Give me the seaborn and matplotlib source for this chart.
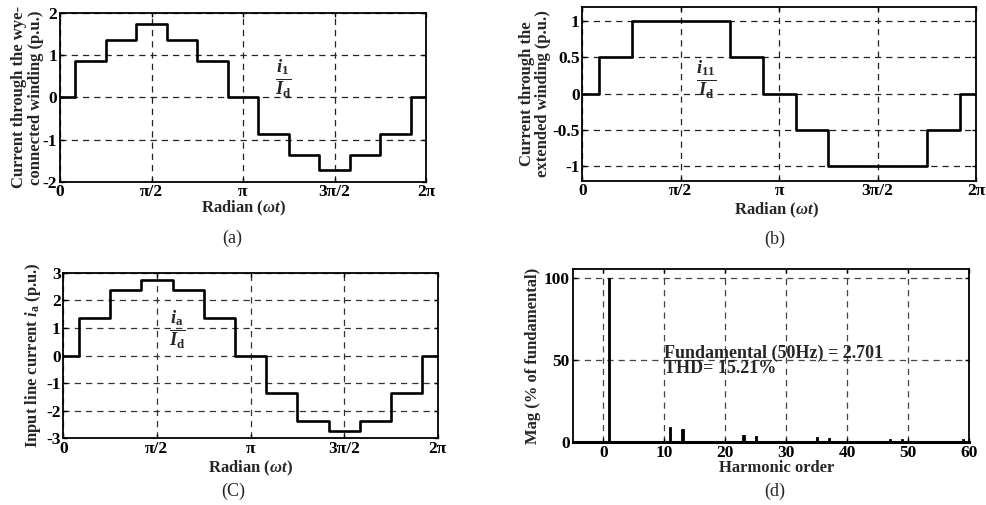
import numpy as np
import matplotlib
matplotlib.use("Agg")
import matplotlib.pyplot as plt
import seaborn as sns

# ---------------- data ----------------
step_edges_deg = [0, 15, 45, 75, 105, 135, 165, 195, 225, 255, 285, 315, 345, 360]
i1_vals = [0, 0.866, 1.366, 1.732, 1.366, 0.866, 0, -0.866, -1.366, -1.732, -1.366, -0.866, 0, 0]
i11_vals = [0, 0.5, 1, 1, 1, 0.5, 0, -0.5, -1, -1, -1, -0.5, 0, 0]
ia_vals = [0, 1.366, 2.366, 2.732, 2.366, 1.366, 0, -1.366, -2.366, -2.732, -2.366, -1.366, 0, 0]

harm_orders = [1, 11, 13, 23, 25, 35, 37, 47, 49, 59]
harm_mags = [100, 9.3, 7.8, 4.5, 4.1, 3.0, 2.8, 2.2, 2.1, 1.8]

rad_tick_labels = ["0", "π/2", "π", "3π/2", "2π"]
yt_a = [-2, -1, 0, 1, 2]
yt_b = [-1, -0.5, 0, 0.5, 1]
yt_b_labels = ["-1", "-0.5", "0", "0.5", "1"]
yt_c = [-3, -2, -1, 0, 1, 2, 3]
yt_d = [0, 50, 100]
xt_d = [0, 10, 20, 30, 40, 50, 60]

# ---------------- style ----------------
sns.set_style("ticks")
plt.rcParams["font.family"] = ["Liberation Serif", "DejaVu Serif"]
plt.rcParams["axes.unicode_minus"] = False
plt.rcParams["mathtext.fontset"] = "custom"
plt.rcParams["mathtext.rm"] = "Liberation Serif:bold"
plt.rcParams["mathtext.it"] = "Liberation Serif:bold:italic"
plt.rcParams["mathtext.bf"] = "Liberation Serif:bold"

W, H = 986, 505
fig = plt.figure(figsize=(W / 100, H / 100), dpi=100)


def px_axes(l, t, r, b):
    return fig.add_axes([l / W, 1 - b / H, (r - l) / W, (b - t) / H])


ax_a = px_axes(60, 13, 426, 181.7)
ax_b = px_axes(582.3, 6.7, 976, 180.7)
ax_c = px_axes(63.3, 272.7, 437.7, 438.3)
ax_d = px_axes(572.7, 269.3, 969.3, 442.3)

grid_kw = dict(linestyle=(0, (5, 4)), linewidth=0.9)
TICK_FS = 12.5
label_font = dict(fontsize=12, fontweight="bold")

x_rad = np.deg2rad(step_edges_deg)
rad_ticks = [0, np.pi / 2, np.pi, 3 * np.pi / 2, 2 * np.pi]


def style_axes(ax, grid_color):
    for s in ax.spines.values():
        s.set_visible(True)
        s.set_linewidth(1.3)
        s.set_color("black")
    ax.tick_params(direction="in", length=3, width=1, top=True, right=True,
                   pad=2, colors="black")
    ax.grid(True, color=grid_color, **grid_kw)
    ax.set_axisbelow(True)
    for lab in ax.get_xticklabels() + ax.get_yticklabels():
        lab.set_fontsize(TICK_FS)
        lab.set_fontweight("bold")


def step_panel(ax, vals, ylim, yticks, yticklabels, grid_color):
    sns.lineplot(x=x_rad, y=vals, drawstyle="steps-post", color="black",
                 linewidth=1.9, ax=ax, sort=False)
    ax.set_xlim(0, 2 * np.pi)
    ax.set_ylim(*ylim)
    ax.set_xticks(rad_ticks)
    ax.set_xticklabels(rad_tick_labels)
    ax.set_yticks(yticks)
    ax.set_yticklabels(yticklabels)
    style_axes(ax, grid_color)
    ax.set_xlabel(r"Radian ($\omega t$)", **label_font)


# (a)
step_panel(ax_a, i1_vals, (-2, 2), yt_a, [str(v) for v in yt_a], "#222222")
ax_a.set_ylabel("Current through the wye-\nconnected winding (p.u.)",
                linespacing=1.05, **label_font)
ax_a.text(3.83, 0.45, r"$\frac{i_1}{I_\mathrm{d}}$", fontsize=19,
          ha="center", va="center")

# (b)
step_panel(ax_b, i11_vals, (-1.2, 1.2), yt_b, yt_b_labels, "#222222")
ax_b.set_ylabel("Current through the\nextended winding (p.u.)",
                linespacing=1.05, **label_font)
ax_b.text(1.97, 0.19, r"$\frac{i_{11}}{I_\mathrm{d}}$", fontsize=19,
          ha="center", va="center")

# (c)
step_panel(ax_c, ia_vals, (-3, 3), yt_c, [str(v) for v in yt_c], "#333333")
ax_c.set_ylabel(r"Input line current $i_\mathrm{a}$ (p.u.)", **label_font)
ax_c.text(1.91, 0.94, r"$\frac{i_\mathrm{a}}{I_\mathrm{d}}$", fontsize=19,
          ha="center", va="center")

# (d)
sns.barplot(x=harm_orders, y=harm_mags, native_scale=True, width=0.18,
            color="black", edgecolor="black", linewidth=0.6, ax=ax_d,
            errorbar=None, saturation=1)
ax_d.set_xlim(-5, 60)
ax_d.set_ylim(0, 105)
ax_d.set_xticks(xt_d)
ax_d.set_xticklabels([str(v) for v in xt_d])
ax_d.set_yticks(yt_d)
ax_d.set_yticklabels([str(v) for v in yt_d])
style_axes(ax_d, "#444444")
ax_d.spines["bottom"].set_linewidth(2.2)
ax_d.set_xlabel("Harmonic order", **label_font)
ax_d.set_ylabel("Mag (% of fundamental)", **label_font)
ax_d.text(10, 49.5, "Fundamental (50Hz) = 2.701\nTHD= 15.21%", fontsize=13,
          fontweight="bold", ha="left", va="center", linespacing=0.9)

# label positions
for ax, (xl, yl) in [(ax_a, (-0.088, -0.157)), (ax_b, (-0.12, -0.172)),
                     (ax_c, (-0.081, -0.18)), (ax_d, (-0.10, -0.149))]:
    ax.xaxis.label.set_va("center")
    ax.yaxis.label.set_va("center")
    ax.yaxis.label.set_ha("center")
    ax.yaxis.set_label_coords(xl, 0.5)
for ax, (xx, yy) in [(ax_a, (0.5, -0.157)), (ax_b, (0.494, -0.172)),
                     (ax_c, (0.5, -0.18)), (ax_d, (0.514, -0.149))]:
    ax.xaxis.set_label_coords(xx, yy)

# panel captions
for txt, x, y in [("(a)", 232, 238), ("(b)", 775, 239),
                  ("(C)", 233, 491), ("(d)", 775, 491)]:
    fig.text(x / W, 1 - y / H, txt, fontsize=13, ha="center", va="center")

fig.savefig("out.png", dpi=100)
